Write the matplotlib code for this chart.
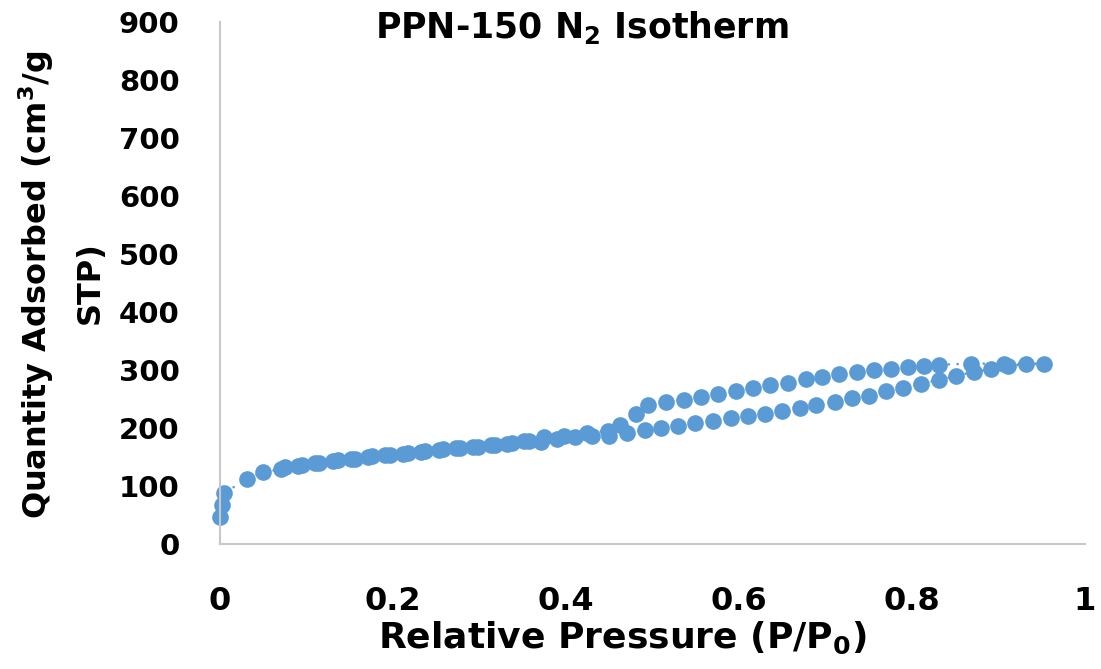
import matplotlib
matplotlib.use("Agg")
import matplotlib.pyplot as plt

# ---- data ----
ads_p = [0.0005, 0.002, 0.005, 0.031, 0.050, 0.071, 0.090, 0.110, 0.131, 0.151,
         0.171, 0.191, 0.212, 0.232, 0.253, 0.273, 0.293, 0.313, 0.332, 0.352,
         0.371, 0.390, 0.410, 0.430, 0.450, 0.471, 0.491, 0.510, 0.530, 0.549,
         0.570, 0.591, 0.610, 0.630, 0.650, 0.670, 0.689, 0.711, 0.731, 0.750,
         0.770, 0.790, 0.810, 0.831, 0.851, 0.872, 0.891, 0.911, 0.932, 0.953]
ads_q = [47, 68, 88, 112, 124, 129, 135, 139, 143, 146,
         150, 153, 155, 159, 162, 165, 167, 170, 173, 177,
         176, 181, 184, 186, 187, 192, 196, 200, 204, 209,
         212, 217, 220, 224, 229, 235, 239, 244, 251, 256,
         263, 269, 276, 283, 290, 297, 301, 307, 310, 311]

des_p = [0.906, 0.868, 0.831, 0.814, 0.795, 0.776, 0.756, 0.736, 0.716, 0.696,
         0.677, 0.657, 0.636, 0.616, 0.596, 0.576, 0.556, 0.536, 0.516, 0.495,
         0.481, 0.462, 0.448, 0.424, 0.398, 0.375, 0.357, 0.337, 0.318, 0.298,
         0.278, 0.258, 0.237, 0.217, 0.196, 0.176, 0.156, 0.136, 0.115, 0.095,
         0.075]
des_q = [311, 311, 309, 307, 305, 302, 300, 297, 293, 288,
         284, 278, 274, 269, 264, 259, 254, 248, 245, 240,
         224, 205, 195, 192, 187, 184, 178, 174, 171, 168,
         166, 163, 160, 157, 154, 151, 147, 144, 140, 137,
         132]

x_ticks = [0, 0.2, 0.4, 0.6, 0.8, 1]
x_ticklabels = ["0", "0.2", "0.4", "0.6", "0.8", "1"]
y_ticks = [0, 100, 200, 300, 400, 500, 600, 700, 800, 900]

title = r"PPN-150 N$_\mathbf{2}$ Isotherm"
xlabel = r"Relative Pressure (P/P$_\mathbf{0}$)"
ylabel1 = r"Quantity Adsorbed (cm$^\mathbf{3}$/g"
ylabel2 = "STP)"

# ---- style ----
plt.rcParams['font.family'] = ['DejaVu Sans']
plt.rcParams['mathtext.fontset'] = 'dejavusans'

blue = '#5B9BD5'
spine_col = '#C8C8C8'
W, H = 1101, 669

fig = plt.figure(figsize=(W / 100, H / 100), dpi=100)
ax = fig.add_axes([220 / W, 1 - 544 / H, (1085 - 220) / W, (544 - 22) / H])

p_all = ads_p + des_p
q_all = ads_q + des_q
ax.plot(p_all, q_all, color=blue, lw=1.8, linestyle=(0, (0.1, 3.4)),
        dash_capstyle='round', marker='o', markersize=12,
        markeredgewidth=0, markerfacecolor=blue, clip_on=False)

ax.set_xlim(0, 1)
ax.set_ylim(0, 900)
ax.set_xticks(x_ticks)
ax.set_xticklabels(x_ticklabels)
ax.set_yticks(y_ticks)

for s in ['top', 'right']:
    ax.spines[s].set_visible(False)
for s in ['left', 'bottom']:
    ax.spines[s].set_color(spine_col)
    ax.spines[s].set_linewidth(1.5)

ax.tick_params(axis='both', length=0)
ax.tick_params(axis='x', pad=30)
ax.tick_params(axis='y', pad=29)
for lab in ax.get_xticklabels():
    lab.set_fontweight('bold')
    lab.set_fontsize(23)
for lab in ax.get_yticklabels():
    lab.set_fontweight('bold')
    lab.set_fontsize(21)

fig.text(582 / W, 1 - 27 / H, title, ha='center', va='center',
         fontsize=25, fontweight='bold')
fig.text(622 / W, 1 - 648 / H, xlabel, ha='center', va='baseline',
         fontsize=26, fontweight='bold')
fig.text(36 / W, 1 - 285 / H, ylabel1, ha='center', va='center', rotation=90,
         fontsize=23, fontweight='bold')
fig.text(90 / W, 1 - 283 / H, ylabel2, ha='center', va='center', rotation=90,
         fontsize=23, fontweight='bold')

fig.savefig('out.png', dpi=100)
